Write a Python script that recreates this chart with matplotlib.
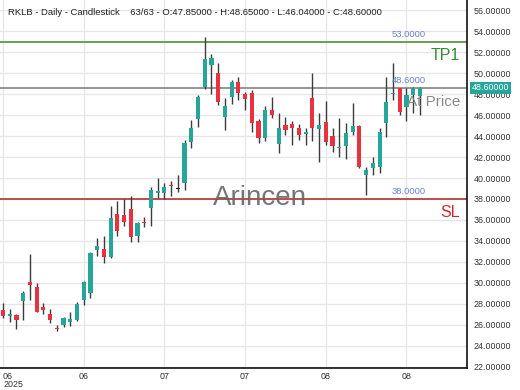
import matplotlib
matplotlib.use("Agg")
import matplotlib.pyplot as plt
import matplotlib.transforms as mtransforms
import numpy as np

plt.rcParams['font.family'] = ['Liberation Sans', 'DejaVu Sans']

opens = [27.4, 26.85, 26.9, 28.26, 30.05, 29.63, 27.7, 27.0, 25.7, 25.97,
         26.3, 26.45, 28.4, 29.0, 33.1, 33.2, 32.44, 36.57, 36.5, 37.0,
         34.47, 35.78, 37.12, 38.55, 38.6, 39.3, 38.96, 39.5, 43.4, 45.62,
         48.73, 50.8, 50.07, 45.87, 47.72, 49.21, 48.0, 48.16, 45.48, 43.8,
         46.47, 43.26, 45.07, 45.17, 44.76, 44.24, 47.68, 44.66, 45.39, 44.02,
         42.82, 43.07, 44.44, 45.0, 40.3, 40.93, 41.09, 45.29, 48.0, 48.58,
         46.82, 47.94, 47.85]
highs = [28.1, 27.5, 27.0, 29.2, 32.75, 30.0, 28.1, 27.5, 26.0, 26.75,
         27.24, 28.2, 30.2, 32.9, 34.25, 34.5, 37.3, 37.8, 38.0, 38.3,
         35.8, 36.25, 39.18, 40.0, 39.5, 39.75, 40.3, 43.6, 45.55, 47.9,
         53.5, 51.85, 50.96, 47.62, 49.37, 49.63, 48.25, 48.42, 45.6, 46.9,
         47.72, 46.25, 45.87, 45.48, 45.17, 44.76, 50.07, 46.19, 47.4, 44.76,
         45.71, 45.23, 47.2, 45.05, 41.09, 41.98, 44.76, 49.69, 50.96, 48.58,
         48.58, 48.74, 48.65]
lows = [26.6, 26.3, 25.6, 26.45, 28.36, 27.2, 27.0, 26.2, 25.4, 25.8,
        25.9, 26.35, 27.9, 28.5, 32.56, 31.9, 32.4, 34.5, 35.4, 33.9,
        33.9, 35.36, 35.43, 38.07, 38.0, 38.3, 38.7, 38.86, 42.9, 44.9,
        48.48, 48.03, 46.98, 44.6, 47.08, 47.46, 46.5, 44.44, 43.3, 43.5,
        45.71, 42.37, 44.12, 43.16, 43.64, 43.16, 43.57, 41.57, 43.16, 42.52,
        42.05, 41.8, 44.12, 41.0, 38.39, 40.3, 40.46, 43.96, 47.46, 46.03,
        45.48, 46.19, 46.04]
closes = [26.8, 26.95, 26.4, 29.06, 29.76, 27.24, 27.4, 26.45, 25.6, 26.6,
          26.5, 27.98, 30.1, 32.8, 33.5, 32.44, 36.16, 34.98, 35.8, 34.35,
          35.74, 35.7, 38.86, 38.76, 39.18, 39.2, 38.96, 43.38, 44.8, 47.7,
          51.35, 51.44, 47.3, 46.89, 49.21, 48.16, 47.53, 45.23, 43.8, 46.5,
          46.03, 44.82, 44.6, 44.76, 44.12, 44.32, 44.76, 45.07, 43.48, 43.07,
          42.88, 44.34, 44.98, 41.03, 40.77, 41.47, 44.44, 47.24, 48.16, 46.35,
          47.94, 48.58, 48.6]

x_tick_pos = [0, 12, 24, 36, 48, 60]
x_tick_labels = ['06\n2025', '06', '07', '07', '08', '08']
y_ticks = list(range(22, 57, 2))

tp_level = 53.0
price_level = 48.6
sl_level = 38.0

title = ("RKLB - Daily - Candlestick    63/63 - O:47.85000 - H:48.65000 - "
         "L:46.04000 - C:48.60000")

UP = '#26a69a'
DOWN = '#e8323f'

fig = plt.figure(figsize=(5.2, 3.9), dpi=100)
ax = fig.add_axes([0.0, 22 / 390, 467 / 520, 368 / 390])

o = np.array(opens); h = np.array(highs); l = np.array(lows); c = np.array(closes)
idx = np.arange(len(o))

ax.vlines(idx, l, h, color='#3c3c3c', linewidth=1.0, zorder=3)
colors = []
for oi, ci in zip(o, c):
    if ci > oi:
        colors.append(UP)
    elif ci < oi:
        colors.append(DOWN)
    else:
        colors.append('#222222')
bottoms = np.minimum(o, c)
heights = np.maximum(np.abs(c - o), 0.12)
ax.bar(idx, heights, bottom=bottoms, width=0.62, color=colors,
       edgecolor='none', zorder=4)

# levels
ax.axhline(tp_level, color='#6a9f52', linewidth=1.4, zorder=2)
ax.axhline(price_level, color='#959595', linewidth=1.4, zorder=2)
ax.axhline(sl_level, color='#b8433d', linewidth=1.3, zorder=2)

tr = mtransforms.blended_transform_factory(ax.transAxes, ax.transData)
xr = 426 / 467
ax.text(xr, tp_level + 0.3, '53.0000', transform=tr, ha='right', va='bottom',
        fontsize=6.8, color='#6b82d6', zorder=6)
ax.text(xr, price_level + 0.3, '48.6000', transform=tr, ha='right', va='bottom',
        fontsize=6.8, color='#6b82d6', zorder=6)
ax.text(xr, sl_level + 0.3, '38.0000', transform=tr, ha='right', va='bottom',
        fontsize=6.8, color='#6b82d6', zorder=6)
xr2 = 460 / 467
ax.text(xr2, 51.28, 'TP1', transform=tr, ha='right', va='baseline',
        fontsize=11.5, color='#2f8f2f', zorder=6)
ax.text(xr2, 46.89, 'At Price', transform=tr, ha='right', va='baseline',
        fontsize=11, color='#8a8a8a', zorder=6)
ax.text(xr2, 36.26, 'SL', transform=tr, ha='right', va='baseline',
        fontsize=11.5, color='#cc2b2b', zorder=6)

ax.text(259.5 / 467, 37.43, 'Arincen', transform=tr, ha='center', va='baseline',
        fontsize=20, color='#666666', alpha=0.9, zorder=5)

ax.text(8 / 467, 0.958, title, transform=ax.transAxes, ha='left', va='baseline',
        fontsize=6.8, color='#222222', zorder=6)

# price box on axis
ax.text(1 + 5 / 467, price_level, '48.60000', transform=tr, ha='left',
        va='center', fontsize=6.4, color='white', zorder=7, clip_on=False,
        bbox=dict(boxstyle='square,pad=0.2', facecolor=UP, edgecolor='none'))

ax.set_xlim(-0.45, 69.0)
ax.set_ylim(21.86, 57.0)
ax.yaxis.tick_right()
ax.set_yticks(y_ticks)
ax.set_yticklabels([f'{v:.5f}' for v in y_ticks])
ax.set_xticks(x_tick_pos)
ax.set_xticklabels(x_tick_labels)
ax.get_xticklabels()[0].set_horizontalalignment('left')
ax.tick_params(axis='y', length=0, pad=5, labelsize=6.4, colors='#333333')
ax.tick_params(axis='x', length=0, pad=3, labelsize=6.4, colors='#333333')
for lab in ax.get_xticklabels():
    lab.set_linespacing(0.9)

ax.grid(True, color='#e6e6e6', linewidth=0.9, zorder=0)
ax.set_axisbelow(True)
for s in ['top', 'left']:
    ax.spines[s].set_visible(False)
ax.spines['right'].set_color('#111111')
ax.spines['bottom'].set_color('#111111')
ax.spines['right'].set_linewidth(1.2)
ax.spines['bottom'].set_linewidth(1.2)

fig.savefig('out.png', dpi=100)
